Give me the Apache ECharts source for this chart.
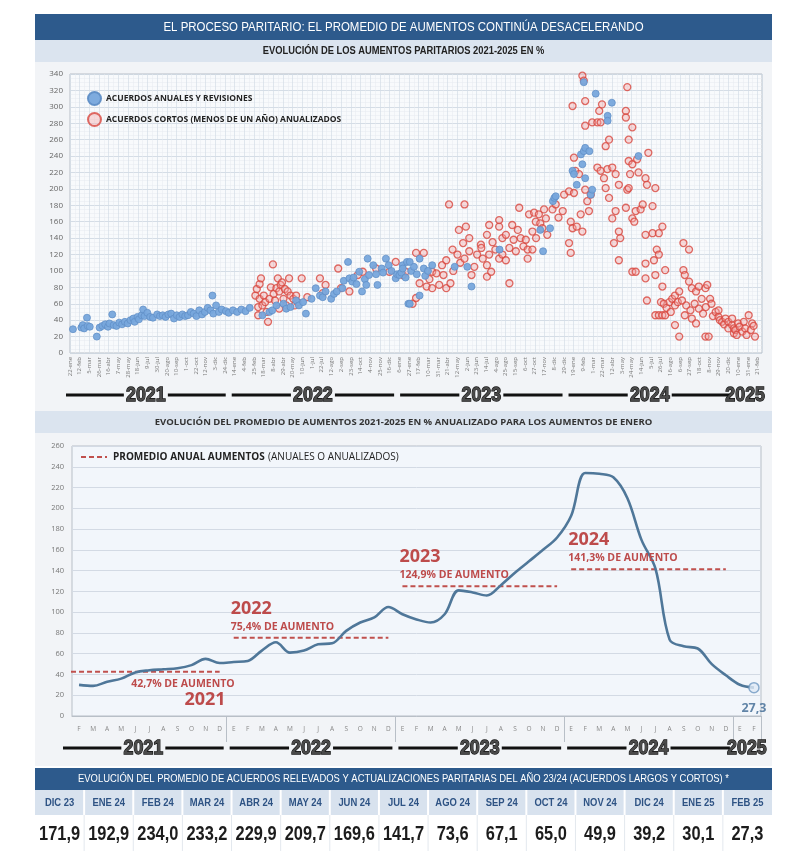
<!DOCTYPE html>
<html><head><meta charset="utf-8">
<script src="https://cdn.jsdelivr.net/npm/echarts@6/dist/echarts.min.js"></script>
<style>html,body{margin:0;padding:0;background:#fff}#c{width:800px;height:851px}</style>
</head><body><div id="c"></div>
<script>
const NARROW = "'Liberation Sans',Arial,sans-serif";
const SANS = "'Open Sans','Noto Sans',sans-serif";

// ---- DATA ----
const mainTitle = 'EL PROCESO PARITARIO: EL PROMEDIO DE AUMENTOS CONTINÚA DESACELERANDO';
const topTitle = 'EVOLUCIÓN DE LOS AUMENTOS PARITARIOS 2021-2025 EN %';
const bottomTitle = 'EVOLUCIÓN DEL PROMEDIO DE AUMENTOS 2021-2025 EN % ANUALIZADO PARA LOS AUMENTOS DE ENERO';
const tableTitle = 'EVOLUCIÓN DEL PROMEDIO DE ACUERDOS RELEVADOS Y ACTUALIZACIONES PARITARIAS DEL AÑO 23/24 (ACUERDOS LARGOS Y CORTOS) *';
const seriesAnnualName = 'ACUERDOS ANUALES Y REVISIONES';
const seriesShortName = 'ACUERDOS CORTOS (MENOS DE UN AÑO) ANUALIZADOS';
const avgName = 'PROMEDIO ANUAL AUMENTOS';

// x = months since 1-ene-2021, y = % increase
const annualPoints = [
[0.9,29],[1.5,31],[1.6,34],[1.7,30],[1.9,43],[1.95,33],[2.1,32],[2.6,20],[2.8,31],[3.0,33],[3.2,35],[3.4,32],[3.5,36],[3.7,47],[3.8,34],[4.0,33],[4.2,37],[4.4,35],[4.6,38],[4.8,36],[5.0,40],[5.2,42],[5.3,38],[5.5,44],[5.6,41],[5.8,46],[5.9,53],[6.0,45],[6.2,49],[6.4,44],[6.6,43],[6.9,47],[7.1,45],[7.3,46],[7.5,44],[7.7,47],[7.9,48],[8.1,42],[8.3,46],[8.5,44],[8.7,47],[8.9,45],[9.1,46],[9.3,50],[9.5,48],[9.7,45],[9.9,52],[10.1,47],[10.3,50],[10.5,55],[10.7,52],[10.84,70],[10.9,48],[11.1,58],[11.3,50],[11.5,53],[11.8,51],[12.0,49],[12.3,52],[12.6,50],[12.9,53],[13.2,51],[13.5,55],
[14.4,46],[14.9,50],[15.1,52],[15.4,58],[15.9,60],[16.1,54],[16.4,56],[16.8,64],[17.0,58],[17.3,62],[17.5,48],[17.9,66],[18.2,79],[18.5,70],[18.7,68],[18.9,75],[19.3,66],[19.5,72],[19.7,75],[20.1,79],[20.2,88],[20.5,111],[20.6,91],[20.8,87],[20.9,92],[21.1,84],[21.3,99],[21.5,75],[21.7,90],[21.8,83],[21.9,115],[22.0,95],[22.3,107],[22.5,96],[22.6,83],[22.9,103],[23.0,98],[23.2,115],[23.4,107],[23.6,100],[23.9,91],[24.0,96],[24.4,107],[24.7,111],[24.8,60],
[24.16,95],[24.3,98],[24.4,103],[24.6,92],[24.9,111],[24.9,60],[25.0,100],[25.2,105],[25.4,96],[25.6,115],[25.6,70],[25.9,103],[26.0,94],[26.2,100],[26.5,107],[28.1,105],[29.0,105],[29.3,81],[31.3,126],[34.2,150],[34.4,124],[34.9,152],[35.1,185],[35.2,189],[35.3,191],[36.5,222],[36.6,218],[36.8,205],[37.1,242],[37.2,230],[37.3,246],[37.4,250],[37.7,246],[37.4,213],[37.8,193],[37.9,199],[37.3,330],[38.15,316],[39.0,289],[39.0,283],[39.3,305],[41.2,240]
];
const shortPoints = [
[13.9,70],[14.0,78],[14.1,56],[14.1,46],[14.2,66],[14.2,84],[14.3,91],[14.4,58],[14.5,70],[14.6,62],[14.7,50],[14.8,38],[14.9,66],[15.0,80],[15.15,108],[15.2,72],[15.3,64],[15.4,79],[15.5,91],[15.6,75],[15.6,54],[15.7,83],[15.8,86],[15.9,66],[16.0,78],[16.1,58],[16.2,75],[16.3,91],[16.4,70],[16.6,66],[16.7,58],[16.8,70],[16.9,62],[17.2,91],[17.6,68],[18.5,91],[18.7,73],[18.9,83],[19.8,103],[20.0,79],[20.6,75],[21.2,95],[21.55,99],[22.5,103],[23.45,99],[23.9,111],[24.4,95],
[24.6,99],[25.1,60],[25.35,67],[25.35,122],[25.6,85],[25.9,122],[26.1,81],[26.3,90],[26.5,99],[26.5,79],[26.8,97],[27.0,83],[27.2,107],[27.3,95],[27.5,113],[27.5,79],[27.7,181],[27.8,85],[27.95,126],[28.0,100],[28.3,120],[28.4,150],[28.5,110],[28.7,134],[28.8,181],[28.8,115],[28.9,154],[29.14,140],[29.14,124],[29.3,95],[29.5,105],[29.7,120],[29.97,132],[30.0,128],[30.1,115],[30.4,144],[30.4,107],[30.4,93],[30.56,156],[30.56,120],[30.7,99],[30.8,135],[31.0,126],[31.27,162],[31.27,154],[31.27,115],[31.5,120],[31.5,140],[31.75,144],[31.75,113],[32.0,85],[32.0,128],[32.2,156],[32.3,138],[32.46,124],[32.6,150],[32.7,177],[32.8,140],[33.0,130],[33.17,138],[33.3,115],[33.3,126],[33.4,169],[33.64,148],[33.64,126],[33.76,171],[33.88,160],[33.9,140],[34.1,169],[34.2,158],[34.35,152],[34.47,175],[34.6,164],[34.7,144],[35.07,175],[35.3,181],[35.5,165],[35.8,173],[35.9,193],[36.25,197],[36.25,134],[36.37,160],[36.37,122],[36.5,152],[36.5,301],[36.6,195],[36.6,238],[36.7,222],[36.8,154],[36.96,218],[37.08,169],[37.2,338],[37.2,148],[37.3,332],[37.4,307],[37.4,277],[37.4,199],[37.55,185],[37.67,173],[37.8,193],[37.9,281],[38.27,281],[38.27,226],[38.4,295],[38.5,281],[38.5,222],[38.6,303],[38.74,213],[38.86,252],[38.86,201],[38.98,224],[39.1,260],[39.1,189],[39.33,226],[39.33,164],[39.45,134],[39.57,218],[39.57,173],[39.8,205],[39.8,148],[39.8,113],[39.9,140],[40.3,177],[40.3,295],[40.3,287],[40.4,199],[40.4,324],[40.5,201],[40.5,260],[40.5,234],[40.6,218],[40.76,164],[40.76,275],[40.76,230],[40.76,99],[40.9,160],[41.0,173],[41.0,99],[41.1,236],[41.2,220],[41.35,175],[41.5,181],[41.7,213],[41.7,144],[41.7,109],[41.7,91],[41.8,205],[41.8,64],[41.9,244],[42.2,179],[42.2,146],[42.3,113],[42.4,201],[42.4,95],[42.4,46],[42.5,126],[42.65,146],[42.65,120],[42.65,46],[42.8,62],[42.9,154],[42.9,81],[42.9,46],[43.0,60],[43.1,101],[43.1,46],[43.2,55],[43.4,62],[43.5,50],[43.6,66],[43.8,70],[43.8,58],[43.8,34],[44.0,62],[44.1,75],[44.1,20],[44.3,64],[44.4,134],[44.4,101],[44.5,95],[44.5,46],[44.6,58],[44.8,126],[44.8,87],[44.9,52],[45.0,79],[45.0,42],[45.2,60],[45.3,75],[45.3,36],[45.5,81],[45.5,54],[45.7,66],[45.8,48],[45.97,79],[45.97,20],[46.0,56],[46.1,83],[46.2,20],[46.3,66],[46.4,60],[46.5,45],[46.7,50],[46.9,44],[46.9,52],[47.0,40],[47.16,38],[47.3,35],[47.4,42],[47.6,38],[47.6,30],[47.87,34],[47.87,42],[48.0,24],[48.0,30],[48.1,28],[48.2,22],[48.3,36],[48.4,32],[48.6,26],[48.7,38],[48.8,30],[48.9,22],[49.05,46],[49.2,28],[49.3,36],[49.4,33],[49.5,20]
];

const yearLabels = ['2021','2022','2023','2024','2025'];
const lineCategories = [
'2021-02','2021-03','2021-04','2021-05','2021-06','2021-07','2021-08','2021-09','2021-10','2021-11','2021-12',
'2022-01','2022-02','2022-03','2022-04','2022-05','2022-06','2022-07','2022-08','2022-09','2022-10','2022-11','2022-12',
'2023-01','2023-02','2023-03','2023-04','2023-05','2023-06','2023-07','2023-08','2023-09','2023-10','2023-11','2023-12',
'2024-01','2024-02','2024-03','2024-04','2024-05','2024-06','2024-07','2024-08','2024-09','2024-10','2024-11','2024-12',
'2025-01','2025-02'];
const lineValues = [
30,29,33,36,42,44,45,46,49,55,51,
52,53,63,71,61,63,69,70,82,90,95,105,
98,93,90,98,121,119,116,126,138,149,160,171.9,
192.9,234.0,233.2,229.9,209.7,169.6,141.7,73.6,67.1,65.0,49.9,39.2,
30.1,27.3];
const avgYears = ['2021','2022','2023','2024'];
const avgValues = [42.7, 75.4, 124.9, 141.3];
const monthLetters = ['E','F','M','A','M','J','J','A','S','O','N','D'];
const dateMonths = ['ene','feb','mar','abr','may','jun','jul','ago','sep','oct','nov','dic'];

const tableMonths = ['DIC 23','ENE 24','FEB 24','MAR 24','ABR 24','MAY 24','JUN 24','JUL 24','AGO 24','SEP 24','OCT 24','NOV 24','DIC 24','ENE 25','FEB 25'];
const tableValues = [171.9,192.9,234.0,233.2,229.9,209.7,169.6,141.7,73.6,67.1,65.0,49.9,39.2,30.1,27.3];

// ---- helpers ----
const fmt = v => v.toFixed(1).replace('.', ',');
function dateLabel(m){
  const d = new Date(2021, 0, 1 + Math.round(m * 30.4375));
  return d.getDate() + '-' + dateMonths[d.getMonth()];
}
const RED = '#bd4b4b';

const chart = echarts.init(document.getElementById('c'));

const avgSeries = avgYears.map((yr, k) => ({
  name: avgName, type: 'line', xAxisIndex: 1, yAxisIndex: 1,
  data: lineCategories.map(c => c.slice(0,4) === yr ? avgValues[k] : null),
  symbol: 'none', silent: true, z: 2,
  lineStyle: { color: '#c0504d', width: 2, type: [5, 3] },
  itemStyle: { color: '#c0504d' }
}));

const option = {
  animation: false,
  legend: [
    { data: [seriesAnnualName, seriesShortName], orient: 'vertical', left: 82, top: 86, icon: 'circle',
      itemWidth: 13, itemHeight: 13, itemGap: 6, selectedMode: false,
      textStyle: { fontFamily: SANS, fontWeight: 'bold', fontSize: 8.5, color: '#222' } }
  ],
  grid: [
    { left: 70, top: 74, width: 692, height: 279, show: true, backgroundColor: '#f8fafc', borderColor: '#b8bfc7', borderWidth: 1 },
    { left: 72, top: 446, width: 689, height: 270, show: true, backgroundColor: '#f2f6fb', borderColor: '#b8bfc7', borderWidth: 1 }
  ],
  xAxis: [
    { type: 'value', gridIndex: 0, min: 0.69, max: 50, interval: 0.69,
      axisLine: { show: false }, axisTick: { show: false },
      axisLabel: { rotate: 90, fontSize: 6, color: '#777', margin: 4, showMaxLabel: false, formatter: dateLabel, fontFamily: SANS },
      splitLine: { show: true, lineStyle: { color: '#d4dce6', width: 0.7 } },
      minorTick: { show: false, splitNumber: 2 },
      minorSplitLine: { show: true, lineStyle: { color: '#e6ebf1', width: 0.5 } } },
    { type: 'category', gridIndex: 1, data: lineCategories, boundaryGap: true,
      axisLine: { show: true, lineStyle: { color: '#b8bfc7' } },
      axisTick: { show: true, length: 26, interval: (i, v) => v.slice(5) === '01', lineStyle: { color: '#b8bfc7' } },
      axisLabel: { interval: 0, fontSize: 6.5, color: '#888', margin: 10, fontFamily: SANS,
        formatter: v => monthLetters[parseInt(v.slice(5), 10) - 1] },
      splitLine: { show: false } }
  ],
  yAxis: [
    { type: 'value', gridIndex: 0, min: 0, max: 340, interval: 20,
      axisLine: { show: false }, axisTick: { show: false },
      axisLabel: { fontSize: 8, color: '#666', margin: 7, fontFamily: SANS },
      splitLine: { lineStyle: { color: '#ccd5e0', width: 0.8 } },
      minorTick: { show: false, splitNumber: 4 },
      minorSplitLine: { show: true, lineStyle: { color: '#e6ebf1', width: 0.5 } } },
    { type: 'value', gridIndex: 1, min: 0, max: 260, interval: 20,
      axisLine: { show: false }, axisTick: { show: false },
      axisLabel: { fontSize: 7.5, color: '#777', margin: 8, fontFamily: SANS },
      splitLine: { lineStyle: { color: '#d3dae4', width: 1 } } }
  ],
  series: [
    { name: seriesShortName, type: 'scatter', xAxisIndex: 0, yAxisIndex: 0, data: shortPoints, symbolSize: 7,
      itemStyle: { color: 'rgba(244,168,168,0.5)', borderColor: '#d8473f', borderWidth: 1.3 } },
    { name: seriesAnnualName, type: 'scatter', xAxisIndex: 0, yAxisIndex: 0, data: annualPoints, symbolSize: 7,
      itemStyle: { color: '#77a6dc', borderColor: '#5f8ec6', borderWidth: 0.8, opacity: 0.95 } },
    ...avgSeries,
    { name: 'promedio', type: 'line', xAxisIndex: 1, yAxisIndex: 1, data: lineValues, smooth: 0.35,
      symbol: 'none', z: 3, lineStyle: { color: '#4f7799', width: 2.6 } },
    { name: 'ultimo', type: 'scatter', xAxisIndex: 1, yAxisIndex: 1, z: 5,
      data: [[lineCategories.length - 1, lineValues[lineValues.length - 1]]], symbolSize: 10,
      itemStyle: { color: '#dfeaf6', borderColor: '#6f98c2', borderWidth: 1.5 },
      label: { show: true, position: 'bottom', distance: 9, formatter: p => fmt(p.value[1]),
        color: '#3c6892', fontWeight: 'bold', fontSize: 12.5, fontFamily: SANS } }
  ]
};
chart.setOption(option);

// ---- layout decorations (headers, year bars, annotations, legend, table) ----
const L = 35, W = 737;
const G = [];
const rect = (x, y, w, h, fill, z) => ({ type: 'rect', silent: true, z: z == null ? -10 : z, shape: { x, y, width: w, height: h }, style: { fill } });
const txt = (x, y, text, o, sx) => ({ type: 'text', silent: true, z: 10, x, y, scaleX: sx || 1,
  style: Object.assign({ text, align: 'center', verticalAlign: 'middle', textAlign: 'center', textVerticalAlign: 'middle' }, o) });
const seg = (x1, y1, x2, y2, stroke, lw, dash) => ({ type: 'line', silent: true, z: 10, shape: { x1, y1, x2, y2 }, style: { stroke, lineWidth: lw, lineDash: dash || null } });

// panels
G.push(rect(L, 62, W, 349, '#f2f4f7'));
G.push(rect(L, 433, W, 333, '#f2f4f7'));
// headers
G.push(rect(L, 14, W, 26, '#2d5a8c'));
G.push(txt(L + W / 2, 27, mainTitle, { fill: '#fff', fontSize: 13.5, fontFamily: NARROW }, 0.85));
G.push(rect(L, 40, W, 22, '#dbe4ef'));
G.push(txt(L + W / 2, 51, topTitle, { fill: '#222', fontSize: 11, fontWeight: 'bold', fontFamily: NARROW }, 0.85));
G.push(rect(L, 411, W, 22, '#dbe4ef'));
G.push(txt(L + W / 2, 422, bottomTitle, { fill: '#333', fontSize: 9.5, fontWeight: 'bold', fontFamily: SANS }));

// legend of the lower chart
G.push(seg(81, 457, 107, 457, '#c0504d', 2, [5, 3]));
G.push(txt(113, 457, '{b|' + avgName + '} {n|(ANUALES O ANUALIZADOS)}', {
  align: 'left', textAlign: 'left',
  rich: { b: { fontFamily: SANS, fontWeight: 'bold', fontSize: 10, fill: '#222' },
          n: { fontFamily: SANS, fontSize: 10, fill: '#222' } } }));

// year bars
function yearBar(x0, x1, y, label) {
  const cx = (x0 + x1) / 2, hw = 22;
  if (cx - hw - (x0 + 3) > 4) G.push(seg(x0 + 3, y, cx - hw, y, '#111', 3));
  if ((x1 - 3) - (cx + hw) > 4) G.push(seg(cx + hw, y, x1 - 3, y, '#111', 3));
  G.push(txt(cx, y, label, { fill: '#4a4a4a', stroke: '#111', lineWidth: 1.3, fontSize: 21, fontWeight: 'bold', fontFamily: NARROW }, 0.85));
}
const topB = [0, 12, 24, 36, 48, 49.6].map(m => chart.convertToPixel({ xAxisIndex: 0 }, m));
topB[0] = 63;
for (let k = 0; k < 5; k++) yearBar(topB[k], topB[k + 1], 395, yearLabels[k]);

const c0 = chart.convertToPixel({ xAxisIndex: 1 }, lineCategories[0]);
const c1 = chart.convertToPixel({ xAxisIndex: 1 }, lineCategories[1]);
const bw = c1 - c0;
const firstIdx = yearLabels.map(y => lineCategories.findIndex(c => c.slice(0, 4) === y));
const botB = firstIdx.map(i => chart.convertToPixel({ xAxisIndex: 1 }, lineCategories[i]) - bw / 2);
botB.push(chart.convertToPixel({ xAxisIndex: 1 }, lineCategories[lineCategories.length - 1]) + bw / 2);
botB[0] = 60;
for (let k = 0; k < 5; k++) yearBar(botB[k], botB[k + 1], 748, yearLabels[k]);

// annotations for yearly averages
avgYears.forEach((yr, k) => {
  const idx = lineCategories.map((c, i) => c.slice(0, 4) === yr ? i : -1).filter(i => i >= 0);
  const pS = chart.convertToPixel({ gridIndex: 1 }, [idx[0], avgValues[k]]);
  const pE = chart.convertToPixel({ gridIndex: 1 }, [idx[idx.length - 1], avgValues[k]]);
  const pct = fmt(avgValues[k]) + '% DE AUMENTO';
  if (k === 0) {
    G.push(seg(71, pS[1], pS[0], pS[1], '#c0504d', 2, [5, 3]));
    G.push(txt(pE[0] + 15, pE[1] + 12, pct, { fill: RED, fontSize: 10.5, fontWeight: 'bold', fontFamily: SANS, align: 'right', textAlign: 'right' }));
    G.push(txt(pE[0] + 6, pE[1] + 28, yr, { fill: RED, fontSize: 18, fontWeight: 'bold', fontFamily: SANS, align: 'right', textAlign: 'right' }));
  } else {
    G.push(txt(pS[0] - 3, pS[1] - 11, pct, { fill: RED, fontSize: 10.5, fontWeight: 'bold', fontFamily: SANS, align: 'left', textAlign: 'left' }));
    G.push(txt(pS[0] - 3, pS[1] - 29, yr, { fill: RED, fontSize: 18, fontWeight: 'bold', fontFamily: SANS, align: 'left', textAlign: 'left' }));
  }
});

// table
const colW = W / tableMonths.length;
G.push(rect(L, 768, W, 22, '#2d5a8c', 1));
G.push(txt(L + W / 2, 779, tableTitle, { fill: '#fff', fontSize: 11.5, fontFamily: NARROW }, 0.82));
G.push(rect(L, 790, W, 25, '#d8e2ee', 1));
G.push(rect(L, 815, W, 36, '#ffffff', 1));
tableMonths.forEach((m, i) => {
  const cx = L + colW * (i + 0.5);
  if (i > 0) {
    G.push(seg(L + colW * i, 790, L + colW * i, 815, '#ffffff', 2));
    G.push(seg(L + colW * i, 815, L + colW * i, 851, '#e3e8ee', 1));
  }
  G.push(txt(cx, 803, m, { fill: '#2e5384', fontSize: 11.5, fontWeight: 'bold', fontFamily: NARROW }, 0.82));
  G.push(txt(cx, 834, fmt(tableValues[i]), { fill: '#1c1c1c', fontSize: 20, fontWeight: 'bold', fontFamily: NARROW }, 0.82));
});

chart.setOption({ graphic: { elements: G } });
</script></body></html>
